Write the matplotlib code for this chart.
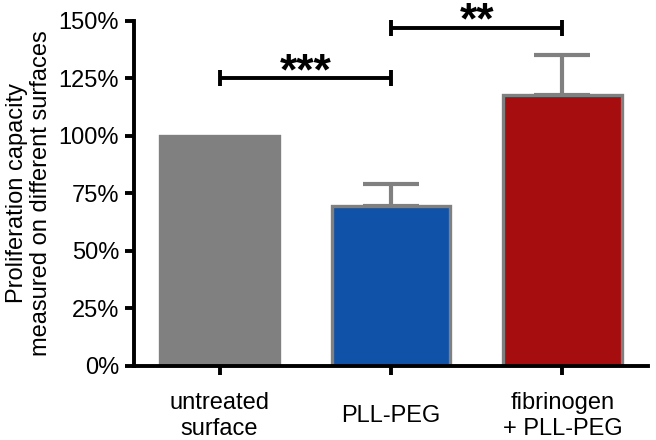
import matplotlib
matplotlib.use("Agg")
import matplotlib.pyplot as plt
from matplotlib.ticker import PercentFormatter

categories = ["untreated\nsurface", "PLL-PEG", "fibrinogen\n+ PLL-PEG"]
values = [100, 69.5, 117.5]
errors = [0, 9.5, 17.5]
bar_colors = ["#808080", "#0f52a8", "#a50d0e"]

# significance brackets: (left bar, right bar, height, label)
brackets = [(0, 1, 125, "***"), (1, 2, 147, "**")]

plt.rcParams["font.family"] = ["Liberation Sans", "DejaVu Sans"]

fig = plt.figure(figsize=(6.56, 4.4), dpi=100)
ax = fig.add_axes([0.204, 0.169, 0.784, 0.784])

x = list(range(len(categories)))
ax.bar(x, values, width=0.69, color=bar_colors, edgecolor="#808080",
       linewidth=2.4, zorder=2)

err_x = [i for i in x if errors[i] > 0]
ax.errorbar(err_x, [values[i] for i in err_x],
            yerr=[[0] * len(err_x), [errors[i] for i in err_x]],
            fmt="none", ecolor="#808080", elinewidth=3, capsize=20,
            capthick=3, zorder=1)

for left, right, height, label in brackets:
    ax.plot([left, right], [height, height], color="black", lw=2.8,
            marker="|", markersize=11, mew=2.8, solid_capstyle="butt",
            zorder=3, clip_on=False)
    # asterisks sit high in the glyph box, so put the baseline just under the bar
    ax.text((left + right) / 2, height - 2.6, label, ha="center",
            va="baseline", fontsize=32, fontweight="bold")

ax.set_xlim(-0.5, 2.5)
ax.set_ylim(0, 150)
ax.set_yticks(range(0, 151, 25))
ax.yaxis.set_major_formatter(PercentFormatter(decimals=0))
ax.set_xticks(x)
ax.set_xticklabels(categories, fontsize=17, linespacing=1.22)
for lbl in ax.get_xticklabels():
    lbl.set_verticalalignment("center")
ax.tick_params(axis="y", labelsize=17)
ax.tick_params(width=2.8, length=6.5, pad=4)
ax.tick_params(axis="x", pad=30)

for side in ["top", "right"]:
    ax.spines[side].set_visible(False)
for side in ["left", "bottom"]:
    ax.spines[side].set_linewidth(2.8)

ax.set_ylabel("Proliferation capacity\nmeasured on different surfaces",
              fontsize=17, linespacing=1.12, labelpad=5)

fig.savefig("out.png", dpi=100)
